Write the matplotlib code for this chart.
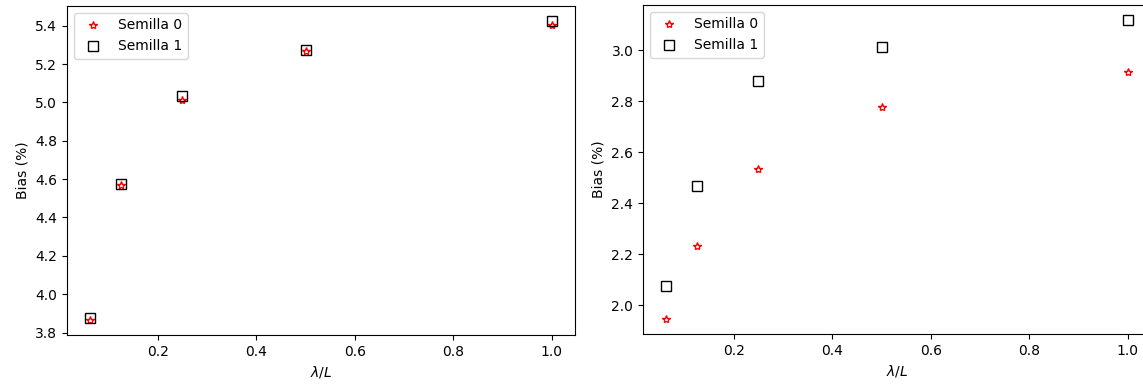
import numpy as np
import matplotlib
matplotlib.use('Agg')
from matplotlib import pyplot as plt

# lambda/L
x = [0.0625, 0.125, 0.25, 0.5, 1.0]

# panel izquierdo
izq_s0 = [3.865, 4.570, 5.015, 5.270, 5.405]
izq_s1 = [3.878, 4.575, 5.035, 5.275, 5.425]

# panel derecho
der_s0 = [1.945, 2.230, 2.535, 2.778, 2.914]
der_s1 = [2.075, 2.465, 2.877, 3.013, 3.118]

fig = plt.figure(figsize=(11.43, 3.89), dpi=100)
ax1 = fig.add_axes([0.0586, 0.1388, 0.4444, 0.8458])
ax2 = fig.add_axes([0.5626, 0.1414, 0.4444, 0.8458])

for ax, s0, s1 in [(ax1, izq_s0, izq_s1), (ax2, der_s0, der_s1)]:
    ax.plot(x, s0, '*', mfc='none', mec='r', ms=6, ls='none', label='Semilla 0')
    ax.plot(x, s1, 's', mfc='none', mec='k', ms=7, ls='none', label='Semilla 1')
    ax.set_xlabel(r'$\lambda/L$')
    ax.set_ylabel('Bias (%)')
    ax.legend(loc='upper left')

fig.savefig('out.png', dpi=100)
